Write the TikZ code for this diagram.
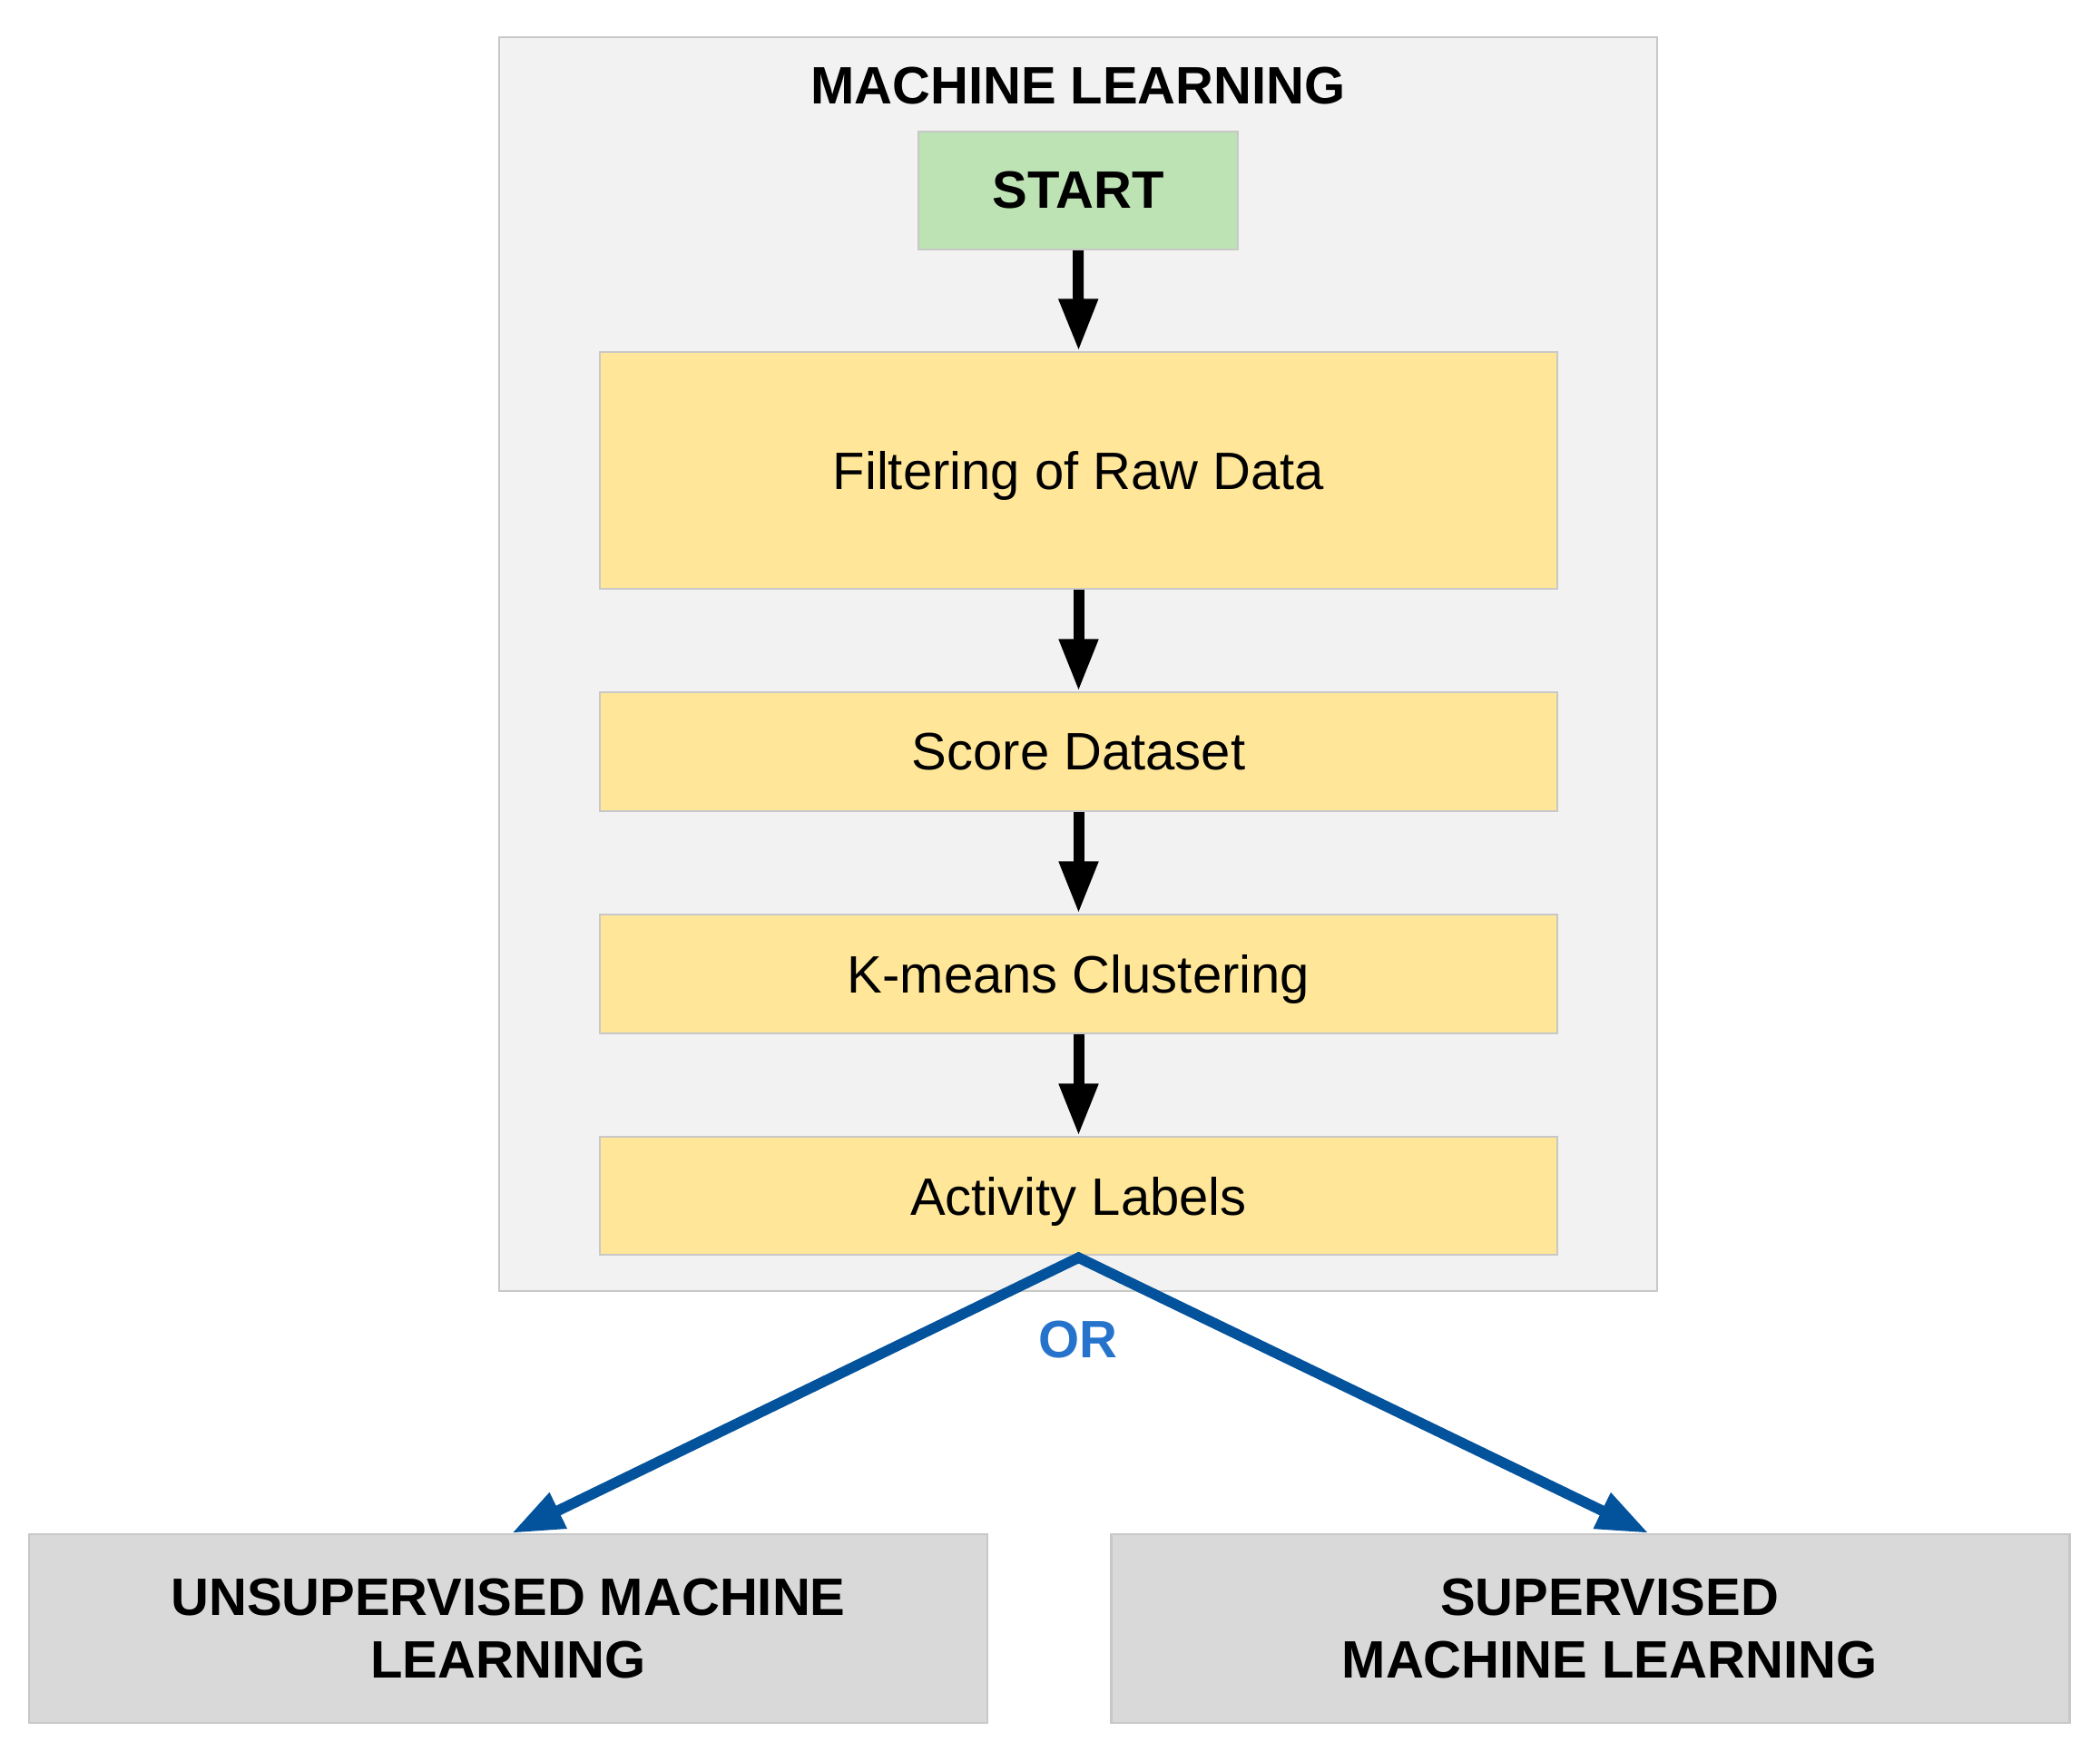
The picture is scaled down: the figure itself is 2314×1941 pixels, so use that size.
\documentclass[tikz,border=0pt]{standalone}
\usepackage{fontspec}
\setmainfont{Liberation Sans}
\usetikzlibrary{arrows.meta}
\definecolor{panelfill}{HTML}{F2F2F2}
\definecolor{edgegray}{HTML}{C8C8C8}
\definecolor{startgreen}{HTML}{BDE2B3}
\definecolor{stepyellow}{HTML}{FFE699}
\definecolor{resultgray}{HTML}{D9D9D9}
\definecolor{arrowblue}{HTML}{02529C}
\definecolor{orblue}{HTML}{2673CC}
\tikzset{
  basebox/.style={draw=edgegray, line width=1.2pt, inner sep=0pt, align=center,
    font=\fontsize{29}{34.5}\selectfont},
  panelbox/.style={basebox, fill=panelfill, minimum width=638pt, minimum height=691pt},
  startbox/.style={basebox, fill=startgreen, minimum width=176pt, minimum height=65pt, font=\fontsize{29}{34.5}\selectfont\bfseries},
  stepbox/.style={basebox, fill=stepyellow, minimum width=527.5pt, text depth=0pt},
  resultbox/.style={basebox, fill=resultgray, minimum width=528pt, minimum height=104pt, font=\fontsize{29}{34.5}\selectfont\bfseries},
  flowarrow/.style={line width=6pt, -{Triangle[length=28.7pt,width=20.3pt]}},
  choicearrow/.style={draw=arrowblue, line width=5.8pt, line join=miter,
    {Triangle[length=28.5pt,width=20.5pt]}-{Triangle[length=28.5pt,width=20.5pt]}, arrowblue},
}
\begin{document}
\begin{tikzpicture}[x=0.5pt, y=-0.5pt]
\useasboundingbox (0,0) rectangle (2314,1941);
\node[panelbox] (panel) at (1188,732) {};
\node[font=\fontsize{29}{34.5}\selectfont\bfseries] (title) at (1188,95) {MACHINE LEARNING};
\node[startbox] (start) at (1188,210) {START};
\node[stepbox, minimum height=130.5pt] (filter) at (1188.5,518.5) {Filtering of Raw Data};
\node[stepbox, minimum height=65.5pt] (score) at (1188.5,828.5) {Score Dataset};
\node[stepbox, minimum height=65.5pt] (kmeans) at (1188.5,1073.5) {K-means Clustering};
\node[stepbox, minimum height=65pt] (activity) at (1188.5,1318) {Activity Labels};
\node[resultbox] (unsup) at (560,1795) {UNSUPERVISED MACHINE\\LEARNING};
\node[resultbox] (sup) at (1752.5,1795) {\hspace*{21pt}SUPERVISED\\\hspace*{21pt}MACHINE LEARNING};
\node[font=\fontsize{29}{34.5}\selectfont\bfseries, text=orblue] (or) at (1188,1477) {OR};
\draw[flowarrow] (start.south) -- (filter.north);
\draw[flowarrow] (filter.south) -- (score.north);
\draw[flowarrow] (score.south) -- (kmeans.north);
\draw[flowarrow] (kmeans.south) -- (activity.north);
\draw[choicearrow] ([xshift=2pt]unsup.north) -- ([yshift=-1pt]activity.south) -- ([xshift=32pt]sup.north);
\end{tikzpicture}
\end{document}
